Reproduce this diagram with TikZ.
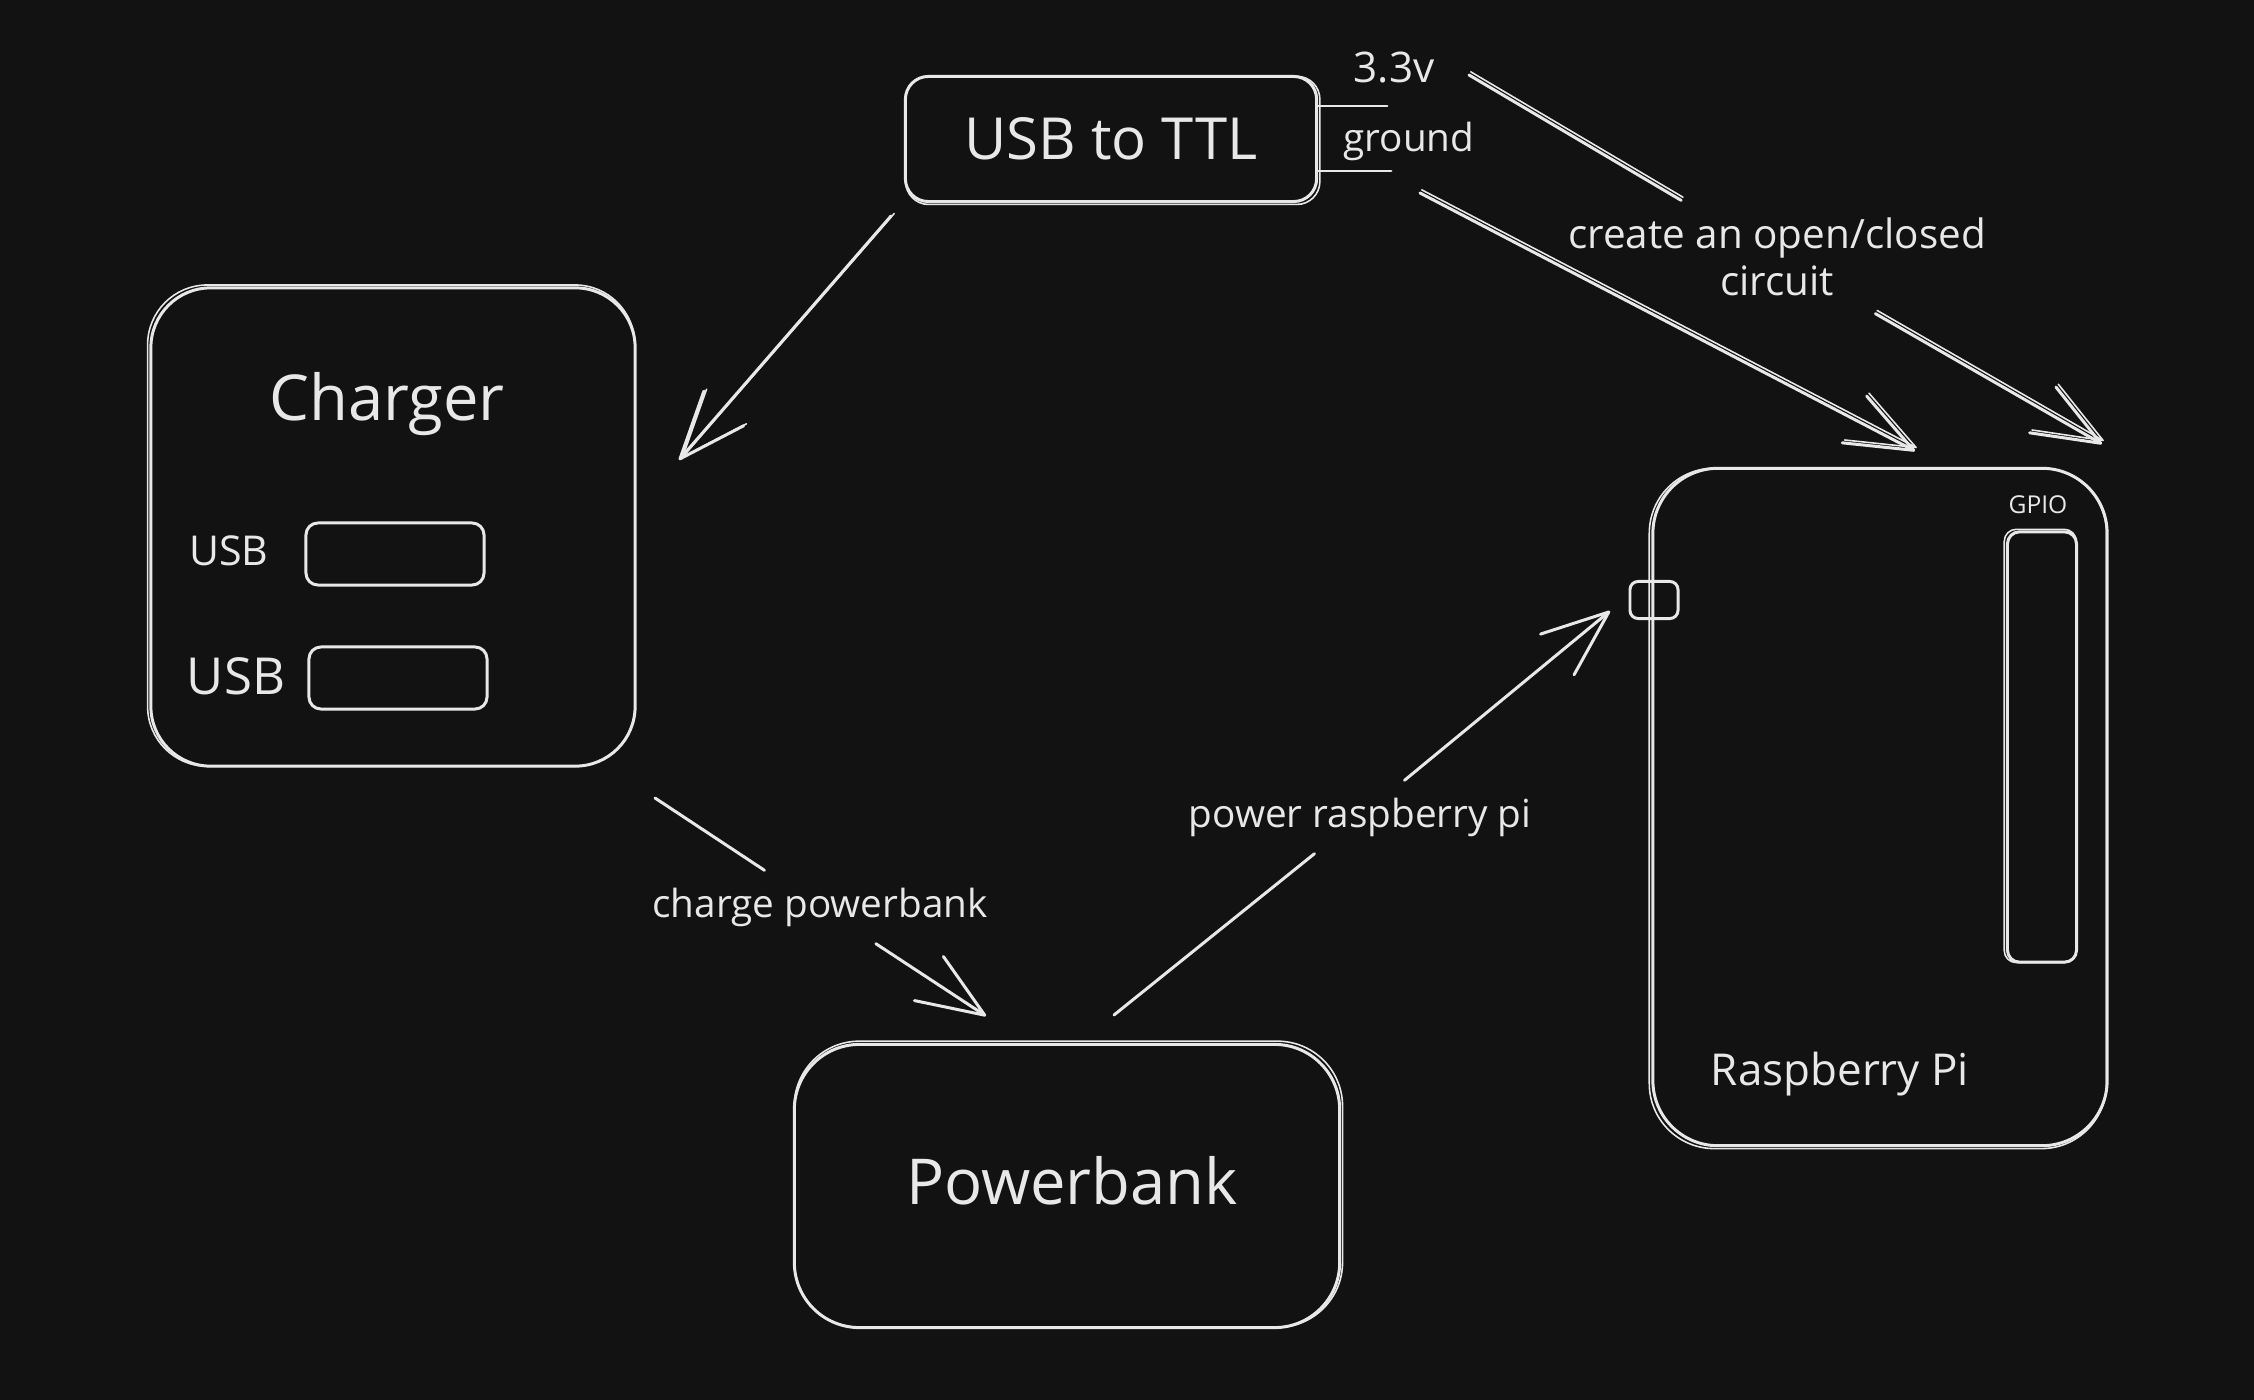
\documentclass[tikz,border=0pt]{standalone}
\usepackage{fontspec}
\setmainfont{Open Sans}
\usetikzlibrary{arrows.meta}
\definecolor{bg}{HTML}{121212}
\definecolor{fg}{HTML}{E8E8E8}
\begin{document}
\begin{tikzpicture}[x=0.01cm,y=-0.01cm,
  color=fg, line width=0.85pt, line cap=round, line join=round,
  box/.style={draw=fg, rounded corners=#1, inner sep=0pt, text=fg},
  box/.default=6pt,
  txt/.style={text=fg, inner sep=0pt, anchor=base},
  gaplbl/.style={text=fg, inner sep=4.5pt, align=center, font=\fontsize{11}{13.5}\selectfont},
  arr/.style={-{Straight Barb[length=19pt,width=15pt,round]}},
  sketch/.style={transform canvas={shift={#1}}, line width=0.45pt},
  sketchbox/.style={transform canvas={shift={#1}}, line width=0.45pt}
]
\fill[bg] (0,0) rectangle (2254,1400);
\useasboundingbox (0,0) rectangle (2254,1400);

% ---------- USB to TTL ----------
\node[box=6.5pt, minimum width=4.11cm, minimum height=1.25cm,
      font=\fontsize{16.5}{20}\selectfont] (ttl) at (1111,139) {USB to TTL};
\draw[sketchbox={(0.5pt,-0.4pt)}, rounded corners=6.5pt] (ttl.south west) rectangle (ttl.north east);
\coordinate (p33) at (1387,106);
\coordinate (pgnd) at (1391,171);
\draw (ttl.east |- p33) -- (p33);
\draw (ttl.east |- pgnd) -- (pgnd);
\node[txt, font=\fontsize{12}{14}\selectfont] (t33) at (1394,83) {3.3v};
\node[txt, font=\fontsize{11}{13}\selectfont] (tgnd) at (1409,152) {ground};

% ---------- Charger ----------
\node[box=17pt, minimum width=4.84cm, minimum height=4.78cm] (charger) at (393,527) {};
\draw[sketchbox={(-0.5pt,0.4pt)}, rounded corners=17pt] (charger.south west) rectangle (charger.north east);
\node[txt, font=\fontsize{18}{21}\selectfont] (chgtitle) at (387,420) {Charger};
\node[box=3.4pt, minimum width=1.78cm, minimum height=0.62cm] (usb1) at (395,554) {};
\node[box=3.4pt, minimum width=1.78cm, minimum height=0.62cm] (usb2) at (398,678) {};
\node[txt, font=\fontsize{11.7}{14}\selectfont] (usbl1) at (229,565) {USB};
\node[txt, font=\fontsize{14.5}{17}\selectfont] (usbl2) at (236,694) {USB};

% ---------- Powerbank ----------
\node[box=18.5pt, minimum width=5.45cm, minimum height=2.83cm] (pb) at (1067,1186) {};
\draw[sketchbox={(0.4pt,0.5pt)}, rounded corners=18.5pt] (pb.south west) rectangle (pb.north east);
\node[txt, font=\fontsize{18}{21}\selectfont] (pbtxt) at (1072,1204) {Powerbank};

% ---------- Raspberry Pi ----------
\node[box=18.5pt, minimum width=4.54cm, minimum height=6.77cm] (pi) at (1880,807) {};
\draw[sketchbox={(-0.6pt,-0.4pt)}, rounded corners=18.5pt] (pi.south west) rectangle (pi.north east);
\node[txt, font=\fontsize{12.5}{15}\selectfont] (pitxt) at (1840,1085) {Raspberry Pi};
\node[box=2.3pt, minimum width=0.48cm, minimum height=0.37cm] (conn) at (1654,600) {};
\node[box=3.4pt, minimum width=0.69cm, minimum height=4.30cm] (gpio) at (2042,747) {};
\draw[sketchbox={(-0.5pt,0.3pt)}, rounded corners=3.4pt] (gpio.south west) rectangle (gpio.north east);
\node[txt, font=\fontsize{7}{8}\selectfont] (gpiotxt) at (2038,513) {GPIO};

% ---------- connectors ----------
% USB to TTL -> Charger
\coordinate (a1s) at (891,216);
\coordinate (a1e) at (679,460);
\draw[arr] (a1s) -- (a1e);
\draw[arr, sketch={(0.9pt,0.7pt)}] (a1s) -- (a1e);

% 3.3v -> Raspberry Pi (with label)
\coordinate (a2s) at (1469,75);
\coordinate (a2e) at (2102,444);
\node[gaplbl, font=\fontsize{11.5}{13.5}\selectfont] (lcirc) at (1777,257) {create an open/closed\\circuit};
\draw (a2s) -- (lcirc);
\draw[sketch={(0.5pt,0.9pt)}] (a2s) -- (lcirc);
\draw[arr] (lcirc) -- (a2e);
\draw[arr, sketch={(0.5pt,0.9pt)}] (lcirc) -- (a2e);

% ground -> Raspberry Pi
\coordinate (a5s) at (1420,193);
\coordinate (a5e) at (1915,451);
\draw[arr] (a5s) -- (a5e);
\draw[arr, sketch={(0.5pt,0.9pt)}] (a5s) -- (a5e);

% Charger -> Powerbank
\coordinate (a3s) at (655,798);
\coordinate (a3e) at (986,1016);
\node[gaplbl] (lchg) at (820,907) {charge powerbank};
\draw (a3s) -- (lchg);
\draw[arr] (lchg) -- (a3e);

% Powerbank -> Raspberry Pi
\coordinate (a4s) at (1114,1015);
\coordinate (a4e) at (1610,611);
\node[gaplbl] (lpow) at (1360,817) {power raspberry pi};
\draw (a4s) -- (lpow);
\draw[arr] (lpow) -- (a4e);
\end{tikzpicture}
\end{document}
